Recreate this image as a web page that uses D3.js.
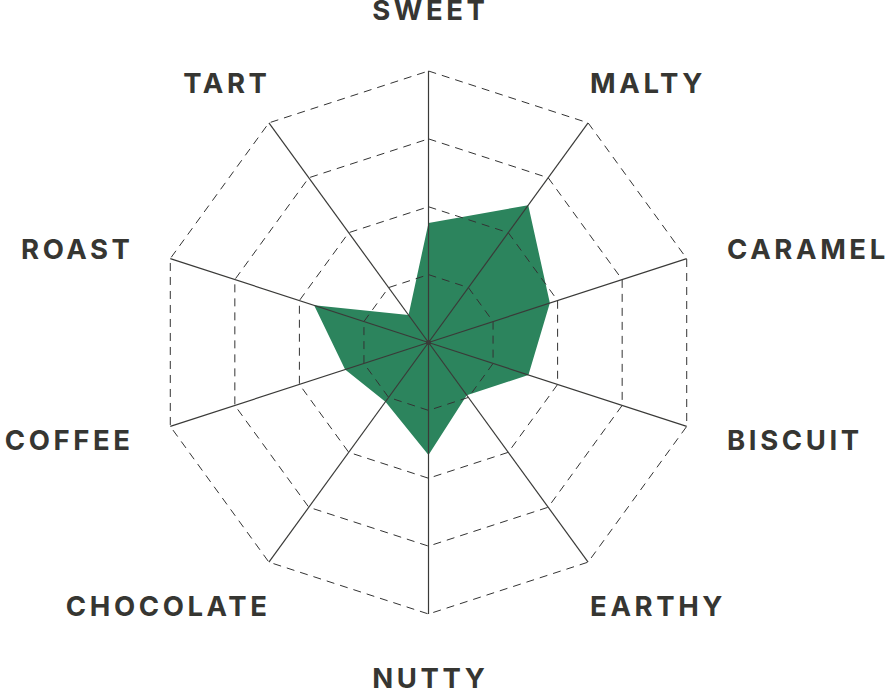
<!DOCTYPE html>
<html>
<head>
<meta charset="utf-8">
<script src="https://cdn.jsdelivr.net/npm/d3@7"></script>
<style>
  html, body { margin: 0; padding: 0; background: #fff; }
  svg { display: block; }
</style>
</head>
<body>
<svg id="chart" width="888" height="689"></svg>
<script>
// ---- data ----
const categories = ["SWEET", "MALTY", "CARAMEL", "BISCUIT", "EARTHY", "NUTTY", "CHOCOLATE", "COFFEE", "ROAST", "TART"];
const values = [0.44, 0.625, 0.47, 0.387, 0.24, 0.414, 0.27, 0.323, 0.443, 0.125];
const gridLevels = [0.25, 0.5, 0.75, 1];

// ---- layout ----
const cx = 428.5, cy = 342.5, R = 271.5;
const LS = 3.6; // letter spacing
const svg = d3.select("#chart");
const g = svg.append("g").attr("transform", `translate(${cx},${cy})`);

const angle = d3.scaleLinear().domain([0, categories.length]).range([0, 2 * Math.PI]);
const r = d3.scaleLinear().domain([0, 1]).range([0, R]);

const radial = d3.lineRadial()
  .angle((d, i) => angle(i))
  .radius(d => r(d))
  .curve(d3.curveLinearClosed);

// filled area
g.append("path")
  .datum(values)
  .attr("d", radial)
  .attr("fill", "#2c845d")
  .attr("stroke", "none");

// grid decagons
g.selectAll("path.grid")
  .data(gridLevels)
  .join("path")
  .attr("class", "grid")
  .attr("d", lv => radial(categories.map(() => lv)))
  .attr("fill", "none")
  .attr("stroke", "#333")
  .attr("stroke-width", 1)
  .attr("stroke-dasharray", "8,6");

// axes
g.selectAll("line.axis")
  .data(categories)
  .join("line")
  .attr("class", "axis")
  .attr("x1", 0).attr("y1", 0)
  .attr("x2", (d, i) => r(1) * Math.sin(angle(i)))
  .attr("y2", (d, i) => -r(1) * Math.cos(angle(i)))
  .attr("stroke", "#3a3a38")
  .attr("stroke-width", 1.2);

g.append("circle").attr("r", 2.5).attr("fill", "#3a3a38");

// labels
function side(i) {
  const s = Math.sin(angle(i));
  return Math.abs(s) < 1e-6 ? 0 : Math.sign(s);
}
g.selectAll("text.lbl")
  .data(categories)
  .join("text")
  .attr("class", "lbl")
  .attr("x", (d, i) => {
    const a = angle(i), s = Math.sin(a), c = Math.abs(Math.cos(a));
    const sd = side(i);
    if (sd === 0) return LS / 2;
    return s * (338 - 78 * c) + (sd < 0 ? LS : 0);
  })
  .attr("y", (d, i) => {
    const c = Math.cos(angle(i));
    return -c * (299 + 33 * c * c) + (c < 0 ? 4 : 0);
  })
  .attr("dy", "0.36em")
  .attr("text-anchor", (d, i) => ["end", "middle", "start"][side(i) + 1])
  .attr("font-family", "Inter, Lato, sans-serif")
  .attr("font-weight", 700)
  .attr("font-size", 27.5)
  .attr("letter-spacing", LS)
  .attr("fill", "#363632")
  .text(d => d);
</script>
</body>
</html>
